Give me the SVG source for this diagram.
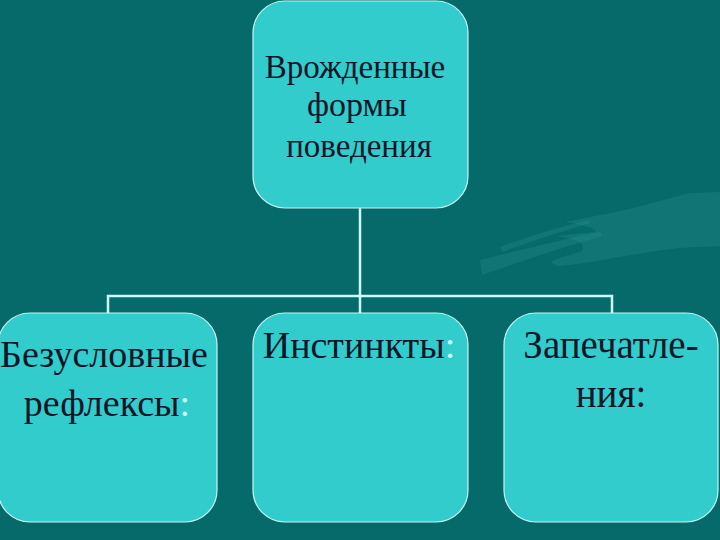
<svg xmlns="http://www.w3.org/2000/svg" width="720" height="540" viewBox="0 0 720 540">
<defs>
<style>
.box{fill:#33cccc;stroke:#c8f4f4;stroke-width:1.2}
.wire{fill:none;stroke:#ccffff;stroke-width:2.5}
.t{font-family:"Liberation Serif","DejaVu Serif",serif;fill:#0a1628;text-anchor:middle}
.lc{fill:#ccffff}
.deco{fill:#3aa6a0;opacity:0.2}
</style>
</defs>
<rect x="0" y="0" width="720" height="540" fill="#056a69"/>
<g id="decoration">
<path class="deco" d="M720,192 L690,193 C660,200 640,208 600,215 L565,222 C585,225 600,230 595,232 L555,236 C575,238 590,245 580,252 C560,258 540,262 560,266 C600,262 640,252 680,248 L720,246 Z"/>
<path class="deco" d="M480,260 C520,250 560,240 600,232 L602,236 C560,248 520,262 482,275 Z"/>
<path class="deco" d="M500,247 C530,236 560,226 590,220 L590,223 C560,232 530,242 502,252 Z"/>
</g>
<g id="connectors">
<path class="wire" d="M360,208 V296"/>
<path class="wire" d="M108,313 V296 H612 V313"/>
<path class="wire" d="M360,296 V313"/>
</g>
<g id="node-top">
<rect class="box" x="253" y="1" width="215" height="207" rx="32" ry="32"/>
<text class="t" font-size="33" x="355" y="78">Врожденные</text>
<text class="t" font-size="34" x="357" y="116">формы</text>
<text class="t" font-size="33" x="359" y="157">поведения</text>
</g>
<g id="node-reflexes">
<rect class="box" x="-2" y="313" width="219" height="209" rx="32" ry="32"/>
<text class="t" font-size="38" x="104" y="367">Безусловные</text>
<text class="t" font-size="38" x="107" y="416">рефлексы<tspan class="lc">:</tspan></text>
</g>
<g id="node-instincts">
<rect class="box" x="253" y="313" width="215" height="209" rx="32" ry="32"/>
<text class="t" font-size="38" x="359" y="358">Инстинкты<tspan class="lc">:</tspan></text>
</g>
<g id="node-imprinting">
<rect class="box" x="504" y="313" width="214" height="209" rx="32" ry="32"/>
<text class="t" font-size="39" x="611" y="358">Запечатле-</text>
<text class="t" font-size="39" x="611" y="407">ния:</text>
</g>
</svg>
